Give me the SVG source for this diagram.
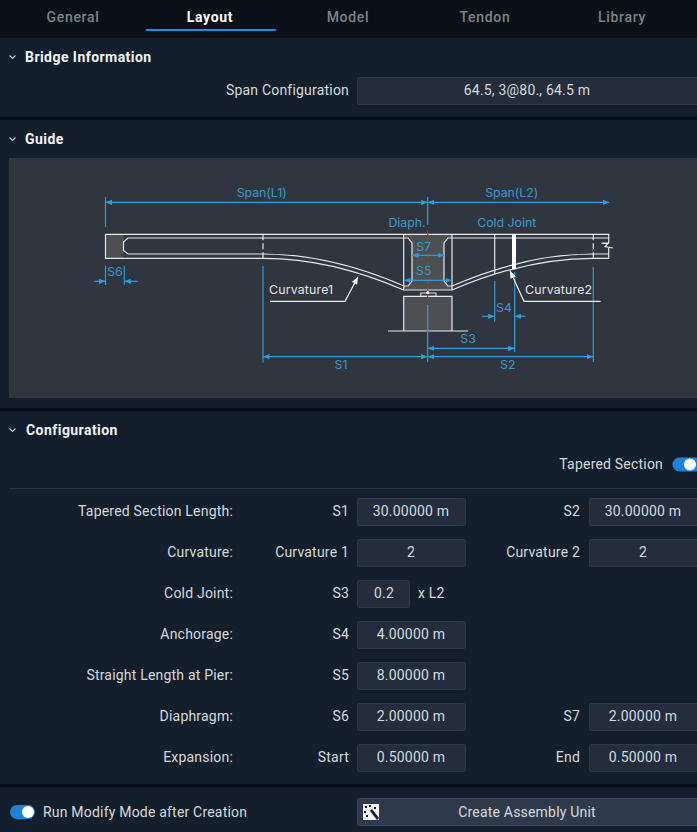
<svg xmlns="http://www.w3.org/2000/svg" width="697" height="832" viewBox="0 0 697 832">
<style>
.ui{font-family:"Roboto","Liberation Sans",sans-serif;font-size:14px;letter-spacing:.2px;fill:#d6dade}
.r{text-anchor:end}.c{text-anchor:middle}
.h{font-weight:700;font-size:14px;letter-spacing:.45px;fill:#f2f4f6}
.tab{font-size:14px;font-weight:500;letter-spacing:.7px;fill:#7d8287;text-anchor:middle}
.inp{fill:#232d3d;stroke:#2f3a4a;stroke-width:1}
.chev{fill:none;stroke:#c4c9ce;stroke-width:1.1}
.d{font-family:"Inter","Lato",sans-serif;font-size:12.300px;fill:#3a9ad0;text-anchor:middle}
.w{font-family:"Inter","Lato",sans-serif;font-size:12.300px;letter-spacing:.2px;fill:#e4e6e8}
.dim{fill:none;stroke:#2f9ed8;stroke-width:1.2}
.ol{fill:none;stroke:#e6e8ea;stroke-width:1.2}
</style>
<defs>
<marker id="a" viewBox="0 0 10 8" refX="10" refY="4" markerWidth="6.5" markerHeight="5.2" markerUnits="userSpaceOnUse" orient="auto-start-reverse"><path d="M0 0L10 4L0 8Z" fill="#2f9ed8"/></marker>
<marker id="w" viewBox="0 0 10 8" refX="10" refY="4" markerWidth="8" markerHeight="6" markerUnits="userSpaceOnUse" orient="auto"><path d="M0 0L10 4L0 8Z" fill="#f2f2f2"/></marker>
</defs>
<rect width="697" height="832" fill="#0c1219"/>
<g id="tabs">
<rect width="697" height="35" fill="#0a1017"/>
<text class="ui tab" x="73" y="22">General</text>
<text class="ui tab" x="210" y="22" style="fill:#fff;font-weight:700">Layout</text>
<text class="ui tab" x="348" y="22">Model</text>
<text class="ui tab" x="485" y="22">Tendon</text>
<text class="ui tab" x="622" y="22">Library</text>
<rect x="146" y="29" width="130" height="2" fill="#1a8fe3"/>
</g>
<rect y="38" width="697" height="79" fill="#141f2d"/>
<rect y="120" width="697" height="288" fill="#141f2d"/>
<rect y="411" width="697" height="373" fill="#141f2d"/>
<rect y="787" width="697" height="45" fill="#141f2d"/>
<g id="bridge-information">
<path class="chev" d="M9.500 55.500L12.500 58.500L15.500 55.500"/>
<text class="ui h" x="25" y="62">Bridge Information</text>
<text class="ui r" x="349" y="95">Span Configuration</text>
<rect class="inp" x="357.500" y="77.500" width="345" height="27" rx="2"/>
<text class="ui c" x="527" y="95">64.5, 3@80., 64.5 m</text>
</g>
<g id="guide">
<path class="chev" d="M9.500 137.500L12.500 140.500L15.500 137.500"/>
<text class="ui h" x="25" y="144">Guide</text>
<rect x="9" y="158" width="688" height="240" fill="#2f3640"/>
</g>
<g id="bridge">
<rect x="105.500" y="234.300" width="18" height="24" fill="#4d4f53"/>
<path d="M404 234.300H452V238H448L444 243V281L448 286H452V290H404V286H408L412 281V243L408 238H404Z" fill="#4d4f53"/>
<rect x="403.700" y="296.300" width="48.300" height="34.700" fill="#4d4f53"/>
<path class="ol" d="M608.700 243.300H601.700M105.500 234.300H608.700V243.300M608.700 248V258.300H593Q526 258.300 452 290H403.700Q330 258 263 258.300H105.500V234.300"/>
<path class="ol" d="M404 238H408L412 243V281L408 286H404Q330 254 263 254H128L123.500 250.500V242L128 238H404M452 238H448L444 243V281L448 286H452Q526 254 593 254H608.500M452 238H608.500"/>
<path class="ol" d="M403.700 234.300V290M452 234.300V290"/>
<path class="ol" d="M601.700 243.300H608L605 246.700L613 248"/>
<path class="ol" d="M263 234.300V258.300M593.300 234.300V258.300" stroke-dasharray="6 3"/>
<path class="ol" d="M494.700 234.300V274"/>
<rect x="512" y="234.300" width="4" height="35" fill="#fff"/>
<path class="ol" d="M403.700 331V296.300H452V331M388 331H468"/>
<rect x="420.700" y="293" width="15.300" height="3.300" fill="none" stroke="#e6e8ea"/>
<path d="M427.700 230V297" stroke="#d6252b" stroke-width="1.2" stroke-dasharray="5 3" fill="none"/>
<circle cx="427.700" cy="292.500" r="1.500" fill="#fff"/>
</g>
<g id="connectors">
<path class="dim" d="M105.500 197V227M427.700 197V225M427.700 305V362M263 266V362.600M593.300 267V362M105.500 265.700V285M124.300 265.700V285M494.700 281V321.700M514.700 272V352"/>
<path class="dim" d="M105.500 202.300H427.700" marker-start="url(#a)" marker-end="url(#a)"/>
<path class="dim" d="M427.700 202.300H609.300" marker-start="url(#a)" marker-end="url(#a)"/>
<path class="dim" d="M263 356.700H427.700" marker-start="url(#a)" marker-end="url(#a)"/>
<path class="dim" d="M427.700 356.700H593.300" marker-start="url(#a)" marker-end="url(#a)"/>
<path class="dim" d="M427.700 348.300H514.700" marker-start="url(#a)" marker-end="url(#a)"/>
<path class="dim" d="M412 255.300H444" marker-start="url(#a)" marker-end="url(#a)"/>
<path class="dim" d="M404 280.300H452" marker-start="url(#a)" marker-end="url(#a)"/>
<path class="dim" d="M94 281.300H105.500" marker-end="url(#a)"/>
<path class="dim" d="M138 281.300H124.300" marker-end="url(#a)"/>
<path class="dim" d="M482 316.300H494.700" marker-end="url(#a)"/>
<path class="dim" d="M525.700 316.300H514.700" marker-end="url(#a)"/>
<path d="M270 301.300H345L358 276.700" fill="none" stroke="#eceeef" stroke-width="1.200" marker-end="url(#w)"/>
<path d="M600.700 301.300H524L510 270.700" fill="none" stroke="#eceeef" stroke-width="1.200" marker-end="url(#w)"/>
</g>
<g id="guide-labels">
<text class="d" x="261.700" y="197">Span(L1)</text>
<text class="d" x="511.700" y="197">Span(L2)</text>
<text class="d" x="407" y="227">Diaph.</text>
<text class="d" x="506.700" y="227">Cold Joint</text>
<text class="d" x="423.700" y="251">S7</text>
<text class="d" x="423.700" y="275">S5</text>
<text class="d" x="504" y="312">S4</text>
<text class="d" x="468" y="343">S3</text>
<text class="d" x="507.700" y="369">S2</text>
<text class="d" x="341" y="369">S1</text>
<text class="d" x="115" y="276">S6</text>
<text class="w" x="269" y="294">Curvature1</text>
<text class="w" x="525" y="294">Curvature2</text>
</g>
<g id="configuration">
<path class="chev" d="M9.500 428.500L12.500 431.500L15.500 428.500"/>
<text class="ui h" x="26" y="435">Configuration</text>
<text class="ui r" x="663" y="469">Tapered Section</text>
<rect x="672.500" y="457.500" width="30" height="14" rx="7" fill="#1e82d8"/>
<circle cx="690" cy="464.500" r="6" fill="#fff"/>
<rect x="9" y="488" width="688" height="1" fill="#2c3644"/>
</g>
<g id="row-tapered">
<text class="ui r" x="233" y="516">Tapered Section Length:</text>
<text class="ui r" x="349" y="516">S1</text>
<rect class="inp" x="357.500" y="498.500" width="108" height="27" rx="2"/>
<text class="ui c" x="411" y="516">30.00000 m</text>
<text class="ui r" x="580" y="516">S2</text>
<rect class="inp" x="589.500" y="498.500" width="112" height="27" rx="2"/>
<text class="ui c" x="643" y="516">30.00000 m</text>
</g>
<g id="row-curvature">
<text class="ui r" x="233" y="557">Curvature:</text>
<text class="ui r" x="349" y="557">Curvature 1</text>
<rect class="inp" x="357.500" y="539.500" width="108" height="27" rx="2"/>
<text class="ui c" x="411" y="557">2</text>
<text class="ui r" x="580" y="557">Curvature 2</text>
<rect class="inp" x="589.500" y="539.500" width="112" height="27" rx="2"/>
<text class="ui c" x="643" y="557">2</text>
</g>
<g id="row-cold-joint">
<text class="ui r" x="233" y="598">Cold Joint:</text>
<text class="ui r" x="349" y="598">S3</text>
<rect class="inp" x="357.500" y="580.500" width="52" height="27" rx="2"/>
<text class="ui c" x="384" y="598">0.2</text>
<text class="ui" x="418" y="598">x L2</text>
</g>
<g id="row-anchorage">
<text class="ui r" x="233" y="639">Anchorage:</text>
<text class="ui r" x="349" y="639">S4</text>
<rect class="inp" x="357.500" y="621.500" width="108" height="27" rx="2"/>
<text class="ui c" x="411" y="639">4.00000 m</text>
</g>
<g id="row-straight">
<text class="ui r" x="233" y="680">Straight Length at Pier:</text>
<text class="ui r" x="349" y="680">S5</text>
<rect class="inp" x="357.500" y="662.500" width="108" height="27" rx="2"/>
<text class="ui c" x="411" y="680">8.00000 m</text>
</g>
<g id="row-diaphragm">
<text class="ui r" x="233" y="721">Diaphragm:</text>
<text class="ui r" x="349" y="721">S6</text>
<rect class="inp" x="357.500" y="703.500" width="108" height="27" rx="2"/>
<text class="ui c" x="411" y="721">2.00000 m</text>
<text class="ui r" x="580" y="721">S7</text>
<rect class="inp" x="589.500" y="703.500" width="112" height="27" rx="2"/>
<text class="ui c" x="643" y="721">2.00000 m</text>
</g>
<g id="row-expansion">
<text class="ui r" x="233" y="762">Expansion:</text>
<text class="ui r" x="349" y="762">Start</text>
<rect class="inp" x="357.500" y="744.500" width="108" height="27" rx="2"/>
<text class="ui c" x="411" y="762">0.50000 m</text>
<text class="ui r" x="580" y="762">End</text>
<rect class="inp" x="589.500" y="744.500" width="112" height="27" rx="2"/>
<text class="ui c" x="643" y="762">0.50000 m</text>
</g>
<g id="footer">
<rect x="10" y="805" width="25" height="14" rx="7" fill="#1e82d8"/>
<circle cx="28" cy="812" r="6" fill="#fff"/>
<text class="ui" x="43" y="817">Run Modify Mode after Creation</text>
<rect x="357.500" y="798.500" width="345" height="27" rx="2" fill="#2f3a4d" stroke="#3a4557"/>
<rect x="363" y="804" width="16" height="16" fill="#f4f4f4"/>
<path d="M370 811L372 809L379 818L377 820ZM365 806h2v2h-2zM369 805h2v2h-2zM374 807h2v2h-2zM364 811h2v2h-2zM366 815h2v2h-2z" fill="#141f2d"/>
<text class="ui c" x="527" y="817">Create Assembly Unit</text>
</g>
</svg>
